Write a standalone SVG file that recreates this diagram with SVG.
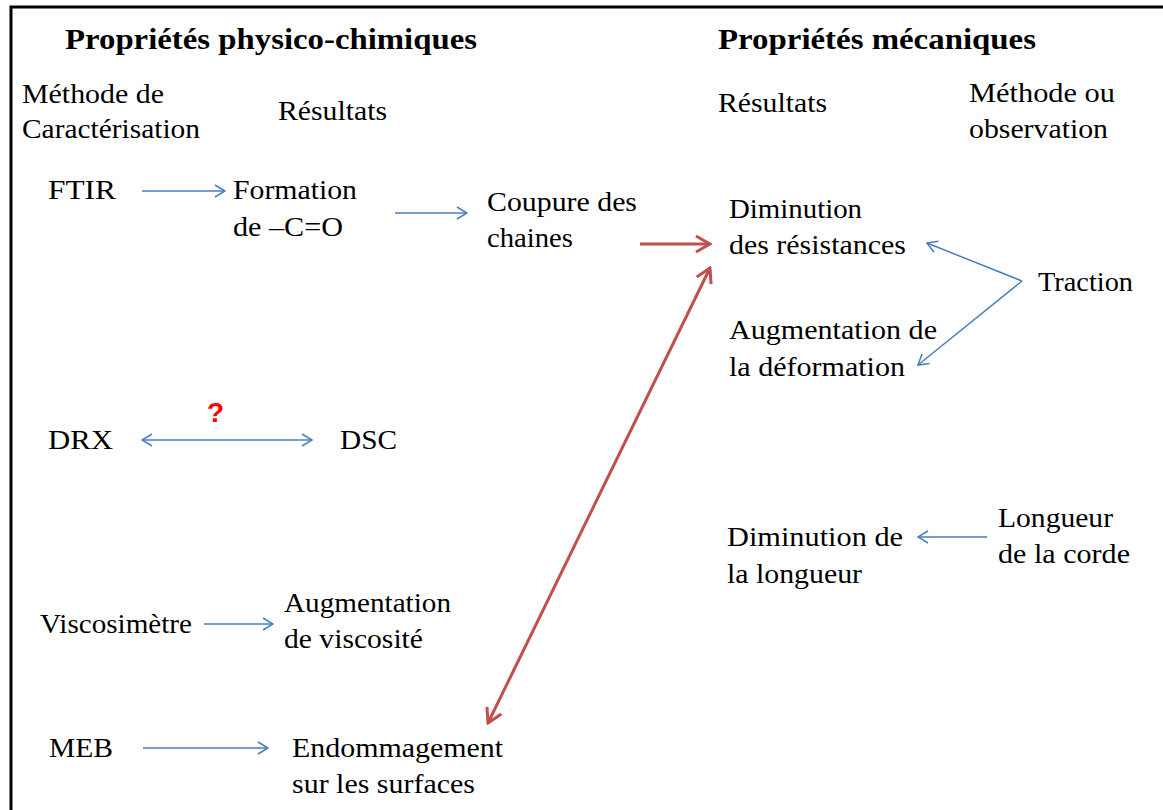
<svg xmlns="http://www.w3.org/2000/svg" width="1163" height="810" viewBox="0 0 1163 810">
<style>
text{font-family:"Liberation Serif","Times New Roman",serif;fill:#000;}
.t{font-size:28px;}
.h{font-size:29px;font-weight:bold;}
.q{font-family:"Liberation Sans",Arial,sans-serif;font-size:28px;font-weight:bold;fill:#ff0000;}
.b{fill:none;stroke:#4a7ebb;stroke-width:1.5;}
.r{fill:none;stroke:#c0504d;stroke-width:3;}
</style>
<defs>
<marker id="ab" viewBox="0 0 12 14" refX="11" refY="7" markerWidth="12" markerHeight="14" markerUnits="userSpaceOnUse" orient="auto-start-reverse">
<path d="M1,1 L11,7 L1,13" fill="none" stroke="#4a7ebb" stroke-width="1.5"/>
</marker>
<marker id="ar" viewBox="0 0 18 20" refX="16" refY="10" markerWidth="18" markerHeight="20" markerUnits="userSpaceOnUse" orient="auto-start-reverse">
<path d="M2,2 L16,10 L2,18" fill="none" stroke="#c0504d" stroke-width="3"/>
</marker>
</defs>
<rect width="1163" height="810" fill="#fff"/>
<rect x="11" y="7" width="1200" height="850" fill="none" stroke="#000" stroke-width="3"/>

<g id="headers">
<text class="h" x="65" y="49" textLength="412" lengthAdjust="spacingAndGlyphs">Propriétés physico-chimiques</text>
<text class="h" x="718" y="49" textLength="318" lengthAdjust="spacingAndGlyphs">Propriétés mécaniques</text>
<text class="t" x="22" y="103" textLength="142" lengthAdjust="spacingAndGlyphs">Méthode de</text>
<text class="t" x="22" y="138" textLength="178" lengthAdjust="spacingAndGlyphs">Caractérisation</text>
<text class="t" x="278" y="120" textLength="109" lengthAdjust="spacingAndGlyphs">Résultats</text>
<text class="t" x="718" y="112" textLength="109" lengthAdjust="spacingAndGlyphs">Résultats</text>
<text class="t" x="969" y="102" textLength="146" lengthAdjust="spacingAndGlyphs">Méthode ou</text>
<text class="t" x="969" y="138" textLength="139" lengthAdjust="spacingAndGlyphs">observation</text>
</g>

<g id="ftir"><text class="t" x="48" y="199" textLength="68" lengthAdjust="spacingAndGlyphs">FTIR</text></g>
<g id="formation">
<text class="t" x="233" y="199" textLength="124" lengthAdjust="spacingAndGlyphs">Formation</text>
<text class="t" x="233" y="236" textLength="110" lengthAdjust="spacingAndGlyphs">de –C=O</text>
</g>
<g id="coupure">
<text class="t" x="487" y="211" textLength="150" lengthAdjust="spacingAndGlyphs">Coupure des</text>
<text class="t" x="487" y="247" textLength="86" lengthAdjust="spacingAndGlyphs">chaines</text>
</g>
<g id="diminution-resistances">
<text class="t" x="729" y="218" textLength="133" lengthAdjust="spacingAndGlyphs">Diminution</text>
<text class="t" x="729" y="254" textLength="177" lengthAdjust="spacingAndGlyphs">des résistances</text>
</g>
<g id="traction"><text class="t" x="1038" y="291" textLength="95" lengthAdjust="spacingAndGlyphs">Traction</text></g>
<g id="augmentation-deformation">
<text class="t" x="729" y="339" textLength="208" lengthAdjust="spacingAndGlyphs">Augmentation de</text>
<text class="t" x="729" y="376" textLength="176" lengthAdjust="spacingAndGlyphs">la déformation</text>
</g>
<g id="drx"><text class="t" x="48" y="449" textLength="65" lengthAdjust="spacingAndGlyphs">DRX</text></g>
<g id="dsc"><text class="t" x="340" y="449" textLength="57" lengthAdjust="spacingAndGlyphs">DSC</text></g>
<g id="viscosimetre"><text class="t" x="40" y="633" textLength="152" lengthAdjust="spacingAndGlyphs">Viscosimètre</text></g>
<g id="augmentation-viscosite">
<text class="t" x="284" y="612" textLength="167" lengthAdjust="spacingAndGlyphs">Augmentation</text>
<text class="t" x="284" y="648" textLength="139" lengthAdjust="spacingAndGlyphs">de viscosité</text>
</g>
<g id="meb"><text class="t" x="49" y="757" textLength="64" lengthAdjust="spacingAndGlyphs">MEB</text></g>
<g id="endommagement">
<text class="t" x="292" y="757" textLength="211" lengthAdjust="spacingAndGlyphs">Endommagement</text>
<text class="t" x="292" y="793" textLength="183" lengthAdjust="spacingAndGlyphs">sur les surfaces</text>
</g>
<g id="diminution-longueur">
<text class="t" x="727" y="546" textLength="176" lengthAdjust="spacingAndGlyphs">Diminution de</text>
<text class="t" x="727" y="583" textLength="135" lengthAdjust="spacingAndGlyphs">la longueur</text>
</g>
<g id="longueur-corde">
<text class="t" x="998" y="527" textLength="115" lengthAdjust="spacingAndGlyphs">Longueur</text>
<text class="t" x="998" y="563" textLength="132" lengthAdjust="spacingAndGlyphs">de la corde</text>
</g>

<g id="connectors">
<path class="b" d="M142,191 H225" marker-end="url(#ab)"/>
<path class="b" d="M395,213 H467" marker-end="url(#ab)"/>
<path class="r" d="M640,244 H710" marker-end="url(#ar)"/>
<path class="r" d="M488,723 L710,268" marker-start="url(#ar)" marker-end="url(#ar)"/>
<path class="b" d="M1022,281 L927,243" marker-end="url(#ab)"/>
<path class="b" d="M1022,281 L918,365" marker-end="url(#ab)"/>
<path class="b" d="M142,440 H312" marker-start="url(#ab)" marker-end="url(#ab)"/>
<text class="q" x="207" y="422">?</text>
<path class="b" d="M204,624 H273" marker-end="url(#ab)"/>
<path class="b" d="M143,748 H268" marker-end="url(#ab)"/>
<path class="b" d="M987,537 H918" marker-end="url(#ab)"/>
</g>
</svg>
